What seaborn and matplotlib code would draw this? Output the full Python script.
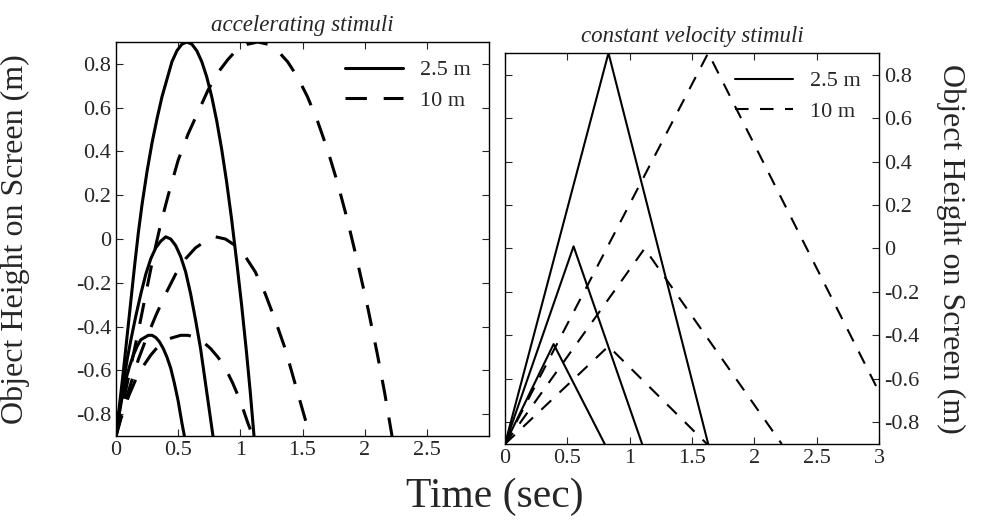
import matplotlib
matplotlib.use("Agg")
import matplotlib.pyplot as plt
import seaborn as sns

# accelerating stimuli, smallest to largest throw
acc_near_t = [[0, 0.02, 0.05, 0.08, 0.11, 0.14, 0.17, 0.20, 0.23, 0.26, 0.29, 0.32, 0.35, 0.38, 0.41, 0.44, 0.47, 0.50, 0.53, 0.55],
              [0, 0.03, 0.06, 0.09, 0.12, 0.16, 0.20, 0.24, 0.28, 0.32, 0.36, 0.40, 0.44, 0.48, 0.52, 0.56, 0.60, 0.64, 0.68, 0.72, 0.75, 0.78],
              [0, 0.03, 0.06, 0.09, 0.12, 0.15, 0.18, 0.21, 0.25, 0.29, 0.33, 0.37, 0.41, 0.45, 0.49, 0.53, 0.57, 0.61, 0.65,
               0.69, 0.73, 0.77, 0.81, 0.85, 0.89, 0.93, 0.97, 1.01, 1.05, 1.08, 1.11]]
acc_near_y = [[-0.9, -0.82, -0.72, -0.64, -0.58, -0.53, -0.49, -0.46, -0.45, -0.44, -0.44, -0.45, -0.47, -0.50, -0.54, -0.59, -0.66, -0.74, -0.84, -0.9],
              [-0.9, -0.77, -0.66, -0.55, -0.46, -0.35, -0.25, -0.16, -0.09, -0.04, -0.01, 0.01, 0.0, -0.03, -0.08, -0.15, -0.25, -0.37, -0.50, -0.66, -0.78, -0.9],
              [-0.9, -0.75, -0.60, -0.44, -0.28, -0.12, 0.03, 0.16, 0.31, 0.44, 0.55, 0.65, 0.73, 0.81, 0.86, 0.89, 0.90, 0.89, 0.86,
               0.81, 0.74, 0.65, 0.54, 0.41, 0.26, 0.09, -0.10, -0.30, -0.52, -0.70, -0.9]]
acc_far_t = [[0, 0.04, 0.10, 0.16, 0.22, 0.28, 0.34, 0.40, 0.46, 0.52, 0.58, 0.64, 0.70, 0.76, 0.82, 0.88, 0.94, 1.00, 1.06, 1.10],
             [0, 0.06, 0.12, 0.18, 0.24, 0.32, 0.40, 0.48, 0.56, 0.64, 0.72, 0.80, 0.88, 0.96, 1.04, 1.12, 1.20, 1.28, 1.36, 1.44, 1.50, 1.56],
             [0, 0.06, 0.12, 0.18, 0.24, 0.30, 0.36, 0.42, 0.50, 0.58, 0.66, 0.74, 0.82, 0.90, 0.98, 1.06, 1.14, 1.22, 1.30,
              1.38, 1.46, 1.54, 1.62, 1.70, 1.78, 1.86, 1.94, 2.02, 2.10, 2.16, 2.22]]
acc_far_y = [[-0.9, -0.82, -0.72, -0.64, -0.58, -0.53, -0.49, -0.46, -0.45, -0.44, -0.44, -0.45, -0.47, -0.50, -0.54, -0.59, -0.66, -0.74, -0.84, -0.9],
             [-0.9, -0.77, -0.66, -0.55, -0.46, -0.35, -0.25, -0.16, -0.09, -0.04, -0.01, 0.01, 0.0, -0.03, -0.08, -0.15, -0.25, -0.37, -0.50, -0.66, -0.78, -0.9],
             [-0.9, -0.74, -0.58, -0.42, -0.25, -0.08, 0.07, 0.20, 0.36, 0.48, 0.58, 0.68, 0.76, 0.82, 0.87, 0.89, 0.90, 0.89, 0.86,
              0.81, 0.74, 0.65, 0.54, 0.41, 0.26, 0.09, -0.10, -0.30, -0.52, -0.70, -0.9]]

# constant velocity stimuli (right panel)
cv_near_t = [[0, 0.39, 0.80], [0, 0.55, 1.10], [0, 0.83, 1.63]]
cv_near_y = [[-0.9, -0.44, -0.9], [-0.9, 0.01, -0.9], [-0.9, 0.90, -0.9]]
cv_far_t = [[0, 0.83, 1.62], [0, 1.12, 2.22], [0, 1.63, 3.0]]
cv_far_y = [[-0.9, -0.45, -0.9], [-0.9, 0.0, -0.9], [-0.9, 0.90, -0.66]]

labels = ["2.5 m", "10 m"]
xticks = [0, 0.5, 1, 1.5, 2, 2.5]
xticks_r = [0, 0.5, 1, 1.5, 2, 2.5, 3]
yticks = [-0.8, -0.6, -0.4, -0.2, 0, 0.2, 0.4, 0.6, 0.8]

sns.set_style("ticks")
plt.rcParams["font.family"] = ["Liberation Serif", "DejaVu Serif"]

fig = plt.figure(figsize=(9.9, 5.24), dpi=100)
ax1 = fig.add_axes([116/990, 1-436/524, 373/990, 394/524])
ax2 = fig.add_axes([505/990, 1-444/524, 374/990, 391/524])

def draw(ax, near_t, near_y, far_t, far_y, lw, dash):
    for i in range(len(near_t)):
        sns.lineplot(x=near_t[i], y=near_y[i], ax=ax, color="black", lw=lw,
                     estimator=None, sort=False, label=labels[0] if i == 0 else None)
    for i in range(len(far_t)):
        sns.lineplot(x=far_t[i], y=far_y[i], ax=ax, color="black", lw=lw,
                     linestyle=(0, dash), estimator=None, sort=False,
                     label=labels[1] if i == 0 else None)

draw(ax1, acc_near_t, acc_near_y, acc_far_t, acc_far_y, 2.2, (7, 5.5))
draw(ax2, cv_near_t, cv_near_y, cv_far_t, cv_far_y, 1.5, (6.5, 5.5))

for ax in (ax1, ax2):
    ax.set_xlim(0, 3)
    ax.set_ylim(-0.9, 0.9)
    ax.set_yticks(yticks)
    ax.set_yticklabels([f"{v:g}" for v in yticks])
    ax.tick_params(direction="in", top=True, left=True, right=True, labelsize=16,
                   length=5, width=0.8)
    for s in ax.spines.values():
        s.set_linewidth(1.0)
        s.set_color("black")
    ax.legend(frameon=False, loc="upper right", fontsize=16, handlelength=2.6,
              borderaxespad=0.4, labelspacing=0.45)

ax1.set_xticks(xticks)
ax1.set_xticklabels([f"{v:g}" for v in xticks])
ax2.set_xticks(xticks_r)
ax2.set_xticklabels([f"{v:g}" for v in xticks_r])
ax2.tick_params(labelleft=False, labelright=True)

ax1.set_title("accelerating stimuli", style="italic", fontsize=16.5, pad=8)
ax2.set_title("constant velocity stimuli", style="italic", fontsize=16.5, pad=8)

ax1.set_ylabel("Object Height on Screen (m)", fontsize=23)
ax1.yaxis.set_label_coords(-0.23, 0.5)
ax2.set_ylabel("Object Height on Screen (m)", fontsize=23, rotation=-90)
ax2.yaxis.set_label_position("right")
ax2.yaxis.set_label_coords(1.23, 0.5)
ax1.set_xlabel("")
ax2.set_xlabel("")
fig.text(495/990, 1-497/524, "Time (sec)", fontsize=30, ha="center", va="center")

fig.savefig("out.png", dpi=100)
